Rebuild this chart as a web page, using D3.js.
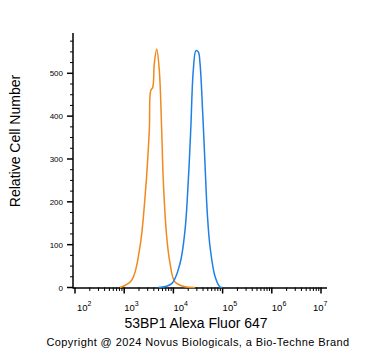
<!DOCTYPE html>
<html>
<head>
<meta charset="utf-8">
<script src="https://cdn.jsdelivr.net/npm/d3@7"></script>
<style>
  body { margin: 0; background: white; }
  text { font-family: "Liberation Sans", Arial, sans-serif; fill: black; }
</style>
</head>
<body>
<div id="canvas"></div>
<script>
"use strict"

/* drawing size */
let svgWidth = 371;
let svgHeight = 351;

/* plot area */
let plotLeft = 73;
let plotTop = 33;
let plotBottom = 287.5;

/* data: isotype control (orange) */
let controlIntensity = [820, 1420, 2090, 2650, 3240, 3460, 3800, 4090, 4580, 5170, 5780, 6230, 7310, 8530, 10790, 18620, 27480];
let controlCount = [0, 17, 95, 211, 367, 460, 467, 523, 557, 507, 367, 250, 118, 57, 13, 1, 0];

/* data: 53BP1 stained (blue) */
let stainIntensity = [4930, 9230, 13610, 17220, 20090, 22490, 25370, 28770, 32060, 34750, 39450, 43870, 48870, 55690, 70470, 88920, 100500];
let stainCount = [0, 9, 56, 134, 250, 367, 507, 553, 550, 523, 406, 289, 173, 94, 25, 1, 0];

let xTickPowers = [2, 3, 4, 5, 6, 7];
let yTicks = [0, 100, 200, 300, 400, 500];

let svg = d3.select("#canvas")
    .append("svg")
    .attr("width", svgWidth)
    .attr("height", svgHeight);

/* scales */
let xScale = d3.scaleLog()
    .domain([100, 1e7])
    .range([75, 321]);

let yScale = d3.scaleLinear()
    .domain([0, 500])
    .range([plotBottom, 73.3]);

/* y axis */
svg.append("line")
    .attr("x1", plotLeft).attr("x2", plotLeft)
    .attr("y1", plotTop).attr("y2", plotBottom + 1)
    .attr("stroke", "black").attr("stroke-width", 1.5);

d3.range(0, 600, 25).forEach(function(v) {
    let major = v % 100 === 0;
    svg.append("line")
        .attr("x1", plotLeft - (major ? 6 : 3)).attr("x2", plotLeft)
        .attr("y1", yScale(v)).attr("y2", yScale(v))
        .attr("stroke", "black").attr("stroke-width", major ? 1.5 : 1);
});

yTicks.forEach(function(v) {
    svg.append("text")
        .attr("x", plotLeft - 10)
        .attr("y", yScale(v) + 3)
        .attr("text-anchor", "end")
        .attr("font-size", "8px")
        .text(v);
});

/* x axis */
svg.append("line")
    .attr("x1", plotLeft).attr("x2", 327)
    .attr("y1", plotBottom + 0.5).attr("y2", plotBottom + 0.5)
    .attr("stroke", "black").attr("stroke-width", 1.5);

xTickPowers.forEach(function(p, i) {
    let v = Math.pow(10, p);
    svg.append("line")
        .attr("x1", xScale(v)).attr("x2", xScale(v))
        .attr("y1", plotBottom).attr("y2", plotBottom + 6)
        .attr("stroke", "black").attr("stroke-width", 1.5);
    if (i < xTickPowers.length - 1) {
        d3.range(2, 10).forEach(function(m) {
            svg.append("line")
                .attr("x1", xScale(m * v)).attr("x2", xScale(m * v))
                .attr("y1", plotBottom).attr("y2", plotBottom + 3.5)
                .attr("stroke", "black").attr("stroke-width", 1);
        });
    }
    let label = svg.append("text")
        .attr("x", xScale(v) + (i === 0 ? 2 : 0) - (i === xTickPowers.length - 1 ? 8 : 0))
        .attr("y", 311)
        .attr("font-size", "9.5px");
    label.append("tspan").text("10");
    label.append("tspan")
        .attr("dy", -5)
        .attr("font-size", "7px")
        .text(p);
});

/* histograms */
let line = d3.line()
    .x(function(d) { return xScale(d[0]); })
    .y(function(d) { return yScale(d[1]); })
    .curve(d3.curveCatmullRom.alpha(0.5));

svg.append("path")
    .datum(controlIntensity.map(function(v, i) { return [v, controlCount[i]]; }))
    .attr("d", line)
    .attr("fill", "none")
    .attr("stroke", "#f08a1c")
    .attr("stroke-width", 1.5);

svg.append("path")
    .datum(stainIntensity.map(function(v, i) { return [v, stainCount[i]]; }))
    .attr("d", line)
    .attr("fill", "none")
    .attr("stroke", "#1e80e6")
    .attr("stroke-width", 1.5);

/* axis titles */
svg.append("text")
    .attr("x", 196)
    .attr("y", 328)
    .attr("text-anchor", "middle")
    .attr("font-size", "14px")
    .text("53BP1 Alexa Fluor 647");

svg.append("text")
    .attr("transform", "translate(20,141) rotate(-90)")
    .attr("text-anchor", "middle")
    .attr("font-size", "14px")
    .text("Relative Cell Number");

svg.append("text")
    .attr("x", 198)
    .attr("y", 346)
    .attr("text-anchor", "middle")
    .attr("font-size", "11px")
    .attr("letter-spacing", "0.4px")
    .text("Copyright @ 2024 Novus Biologicals, a Bio-Techne Brand");
</script>
</body>
</html>
